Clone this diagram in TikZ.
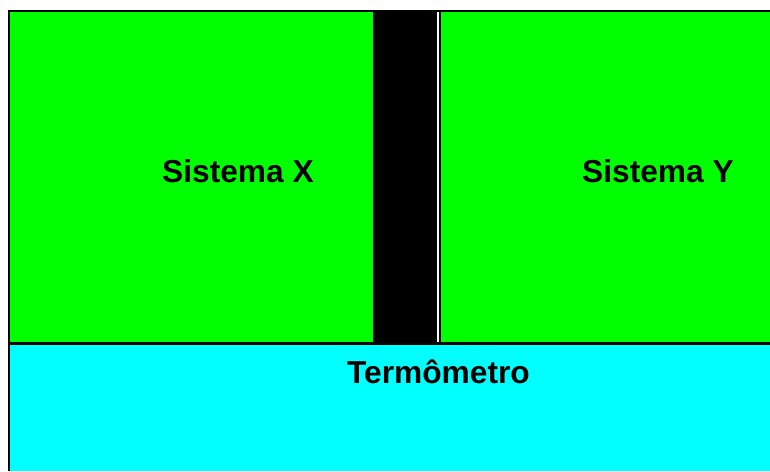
\documentclass[tikz,border=0pt]{standalone}
\usepackage{fontspec}
\setmainfont{Liberation Sans}
\definecolor{sysgreen}{RGB}{0,255,0}
\definecolor{thermocyan}{RGB}{0,255,255}
\begin{document}
\begin{tikzpicture}[x=1pt,y=-1pt,
  lbl/.style={inner sep=0pt,anchor=base west,font=\fontsize{31.7}{36}\selectfont\bfseries}]
\useasboundingbox (0,0) rectangle (770,471);
% green systems
\fill[sysgreen] (10,12) rectangle (373,342);
\fill[sysgreen] (441,12) rectangle (770,342);
% black wall
\fill[black] (373,12) rectangle (437,342);
\fill[white] (437,12) rectangle (439,342);
\fill[black] (439,12) rectangle (441,342);
% thermometer
\fill[thermocyan] (10,345) rectangle (770,471);
% borders
\fill[black] (8,10) rectangle (770,12);
\fill[black] (8,10) rectangle (10,471);
\fill[black] (8,342) rectangle (770,345);
% labels
\node[lbl] (sx) at (162,182) {Sistema X};
\node[lbl] (sy) at (582,182) {Sistema Y};
\node[lbl] (tm) at (347,383) {Termômetro};
\end{tikzpicture}
\end{document}
